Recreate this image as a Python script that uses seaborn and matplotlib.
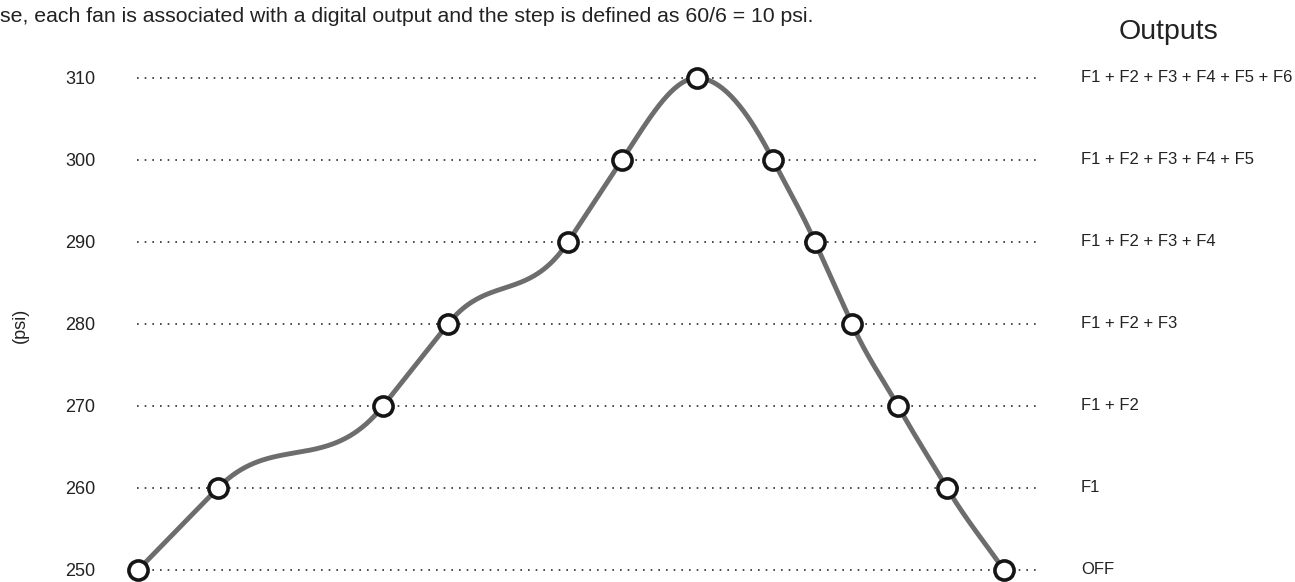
import numpy as np
import pandas as pd
import matplotlib
matplotlib.use("Agg")
import matplotlib.pyplot as plt
import seaborn as sns

# ---- data ----
# horizontal position of each step (arbitrary time units)
positions = [1, 81, 246, 311, 431, 485, 560, 636, 678, 715, 761, 810, 867]
pressures = [250, 260, 270, 280, 290, 300, 310, 300, 290, 280, 270, 260, 250]
levels = [250, 260, 270, 280, 290, 300, 310]
outputs = ["OFF", "F1", "F1 + F2", "F1 + F2 + F3", "F1 + F2 + F3 + F4",
           "F1 + F2 + F3 + F4 + F5", "F1 + F2 + F3 + F4 + F5 + F6"]
caption = "se, each fan is associated with a digital output and the step is defined as 60/6 = 10 psi."
y_title = "(psi)"
right_title = "Outputs"

sns.set_style("white")
plt.rcParams["font.family"] = ["Liberation Sans", "DejaVu Sans"]

W, H = 1295, 582
fig = plt.figure(figsize=(W / 100, H / 100), dpi=100)
left_px, right_px, top_px, bot_px = 137, 1040, 78, 570
ax = fig.add_axes([left_px / W, 1 - bot_px / H, (right_px - left_px) / W, (bot_px - top_px) / H])
ax.set_xlim(0, right_px - left_px)
ax.set_ylim(250, 310)
for s in ax.spines.values():
    s.set_visible(False)

# dotted guide lines
for lv in levels:
    ax.axhline(lv, color="#2e2e2e", lw=1.2, ls=(0, (1, 3.6)), zorder=1, clip_on=False)

# smooth rendering of the line: cubic Hermite segments; the tangent at each point
# follows the steeper adjacent chord (flat at turning points)
x = np.asarray(positions, float)
y = np.asarray(pressures, float)
n = len(x)
sl = np.diff(y) / np.diff(x)
m = np.zeros(n)
m[0], m[-1] = sl[0], sl[-1]
for i in range(1, n - 1):
    a, b = sl[i - 1], sl[i]
    m[i] = 0.0 if a * b <= 0 else np.sign(a) * max(abs(a), abs(b))
xs, ys = [], []
for i in range(n - 1):
    hh = x[i + 1] - x[i]
    t = np.linspace(0, 1, 80)
    h00 = 2 * t**3 - 3 * t**2 + 1
    h10 = t**3 - 2 * t**2 + t
    h01 = -2 * t**3 + 3 * t**2
    h11 = t**3 - t**2
    xs.extend(x[i] + t * hh)
    ys.extend(h00 * y[i] + h10 * hh * m[i] + h01 * y[i + 1] + h11 * hh * m[i + 1])
curve = pd.DataFrame({"x": xs, "y": ys})
sns.lineplot(data=curve, x="x", y="y", sort=False, color="#6d6d6d", lw=3.5, ax=ax,
             zorder=2, clip_on=False)

pts = pd.DataFrame({"x": positions, "y": pressures})
sns.scatterplot(data=pts, x="x", y="y", s=190, color="white", edgecolor="#151515",
                linewidth=2.6, ax=ax, zorder=3, clip_on=False)

ax.set_yticks(levels)
ax.set_yticklabels([str(v) for v in levels], fontsize=13, color="#222222")
ax.tick_params(axis="y", length=0, pad=30)
ax.set_xticks([])
ax.set_xlabel("")
ax.set_ylabel("")

# right-hand output labels
for lv, lab in zip(levels, outputs):
    ax.text(1081 - left_px, lv, lab, fontsize=12, color="#222222", va="center", ha="left",
            clip_on=False)

fig.text(20 / W, 1 - 325 / H, y_title, rotation=90, fontsize=13, color="#222222",
         ha="center", va="center")
fig.text(1168 / W, 1 - 39 / H, right_title, fontsize=20.5, color="#222222", ha="center",
         va="baseline")
fig.text(0, 1 - 16 / H, caption, fontsize=15.3, color="#222222", ha="left", va="center")

fig.savefig("out.png", dpi=100, facecolor="white")
